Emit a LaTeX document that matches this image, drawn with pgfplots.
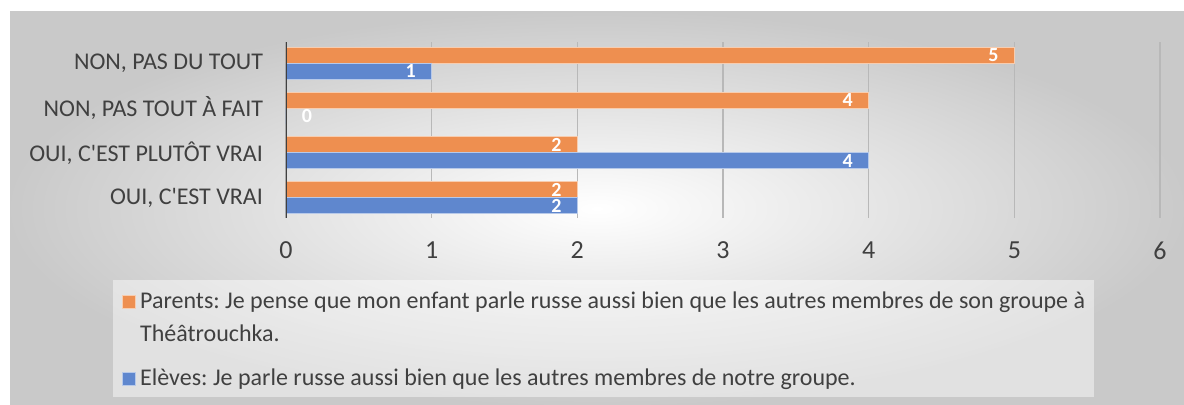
\documentclass[border=0pt]{standalone}
\usepackage{pgfplots}
\pgfplotsset{compat=1.18}
\usepackage{fontspec}
\setmainfont{Carlito}[Ligatures=TeXOff]
\definecolor{orng}{RGB}{238,143,80}
\definecolor{blu}{RGB}{95,135,206}
\definecolor{txt}{RGB}{64,64,64}
\frenchspacing
\begin{document}
\begin{tikzpicture}
\path[use as bounding box] (0,0) rectangle (592pt,-202.5pt);
\shade[inner color=white, outer color=black!21] (5pt,-6pt) rectangle (592pt,-202.5pt);
\fill[white, opacity=0.45] (56.5pt,-140pt) rectangle (547pt,-198.5pt);
\begin{axis}[
  /pgf/number format/assume math mode=true,
  at={(143pt,-109pt)}, anchor=south west,
  scale only axis, width=437pt, height=88pt,
  xmin=0, xmax=6, ymin=-0.46, ymax=3.48,
  xtick={0,...,6}, ytick={0,1,2,3},
  yticklabels={{OUI, C'EST VRAI},{OUI, C'EST PLUTÔT VRAI},{NON, PAS TOUT À FAIT},{NON, PAS DU TOUT}},
  axis line style={draw=none},
  major tick length=0pt,
  xmajorgrids, grid style={black!28, line width=0.7pt},
  xticklabel style={font=\fontsize{13}{13}\selectfont, text=txt, yshift=-8.5pt},
  yticklabel style={font=\fontsize{12}{12}\selectfont, text=txt, xshift=-8pt},
  xbar, bar width=8pt,
  nodes near coords,
  visualization depends on={rawx \as \rawx},
  nodes near coords style={font=\bfseries\fontsize{10}{10}\selectfont, text=white, anchor=center,
     xshift={(\rawx==0 ? 10.5 : -10.5)}},
  legend style={at={(axis description cs:-0.195,-0.336)}, anchor=north west, draw=none, fill=none,
     font=\fontsize{12}{16.5}\selectfont, text=txt, row sep=24.5pt,
     cells={anchor=base west}},
]
\addplot[bar shift=4pt, fill=orng, draw=white!55!orng, line width=0.6pt,
  legend image code/.code={\fill[orng, draw=white!55!orng] (0pt,0pt) rectangle (6.5pt,6.5pt);}]
  coordinates {(2,0) (2,1) (4,2) (5,3)};
\addplot[bar shift=-4pt, fill=blu, draw=white!55!blu, line width=0.6pt,
  legend image code/.code={\fill[blu, draw=white!55!blu] (0pt,0pt) rectangle (6.5pt,6.5pt);}]
  coordinates {(2,0) (4,1) (0,2) (1,3)};
\draw[black!75, line width=1.5pt] (axis cs:0,-0.46) -- (axis cs:0,3.48);
\legend{{\begin{tabular}[t]{@{}l@{}}Parents: Je pense que mon enfant parle russe aussi bien que les autres membres de son groupe à\\Théâtrouchka.\end{tabular}},{Elèves: Je parle russe aussi bien que les autres membres de notre groupe.}}
\end{axis}
\end{tikzpicture}
\end{document}
